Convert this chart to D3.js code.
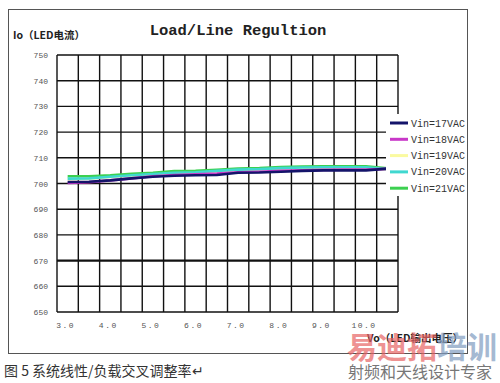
<!DOCTYPE html>
<html>
<head>
<meta charset="utf-8">
<script src="https://cdn.jsdelivr.net/npm/d3@7"></script>
<style>
  body { margin: 0; background: #fff; }
  svg { display: block; }
</style>
</head>
<body>
<svg id="chart" width="500" height="383"></svg>
<script>
// categories (Vo, volts) and tick labels
const vo = ["3.0","3.5","4.0","4.5","5.0","5.5","6.0","6.5","7.0","7.5","8.0","8.5","9.0","9.5","10.0","10.5"];
const xLabels = ["3.0","4.0","5.0","6.0","7.0","8.0","9.0","10.0"];
const yTicks = [650,660,670,680,690,700,710,720,730,740,750];

// Io (mA) per input voltage
const vin17 = [700.6,700.7,701.2,702.0,702.6,703.0,703.2,703.3,704.2,704.3,704.6,704.9,705.1,705.1,705.1,705.8];
const vin18 = [700.2,700.5,701.2,702.0,702.8,703.3,703.6,703.9,704.4,704.6,704.9,705.1,705.3,705.4,705.4,705.7];
const vin19 = [701.7,701.9,702.5,703.1,703.6,704.0,704.3,704.8,705.2,705.5,705.9,706.1,706.2,706.2,706.2,705.5];
const vin20 = [701.9,702.0,702.6,703.2,703.7,704.2,704.4,704.9,705.4,705.6,706.0,706.2,706.3,706.3,706.3,705.6];
const vin21 = [702.8,702.8,703.2,703.8,704.2,704.8,704.9,705.3,705.8,706.0,706.4,706.6,706.7,706.7,706.7,705.9];

const seriesNames = ["Vin=17VAC","Vin=18VAC","Vin=19VAC","Vin=20VAC","Vin=21VAC"];
const seriesColors = ["#14146a","#c838c8","#fafaa0","#40d8d0","#3cd050"];
const series = [vin17, vin18, vin19, vin20, vin21];

const svg = d3.select("#chart");
const mono = "'Liberation Mono', 'DejaVu Sans Mono', monospace";
const cjk = "'Noto Sans CJK SC', sans-serif";

// outer frame
svg.append("rect")
  .attr("x", 8.5).attr("y", 9.5).attr("width", 459).attr("height", 344)
  .attr("fill", "#fff").attr("stroke", "#555").attr("stroke-width", 1);

const x = d3.scaleBand().domain(vo).range([57, 398]);
const y = d3.scaleLinear().domain([650, 750]).range([312, 55]);

// grid
const grid = svg.append("g").attr("class", "grid");
grid.selectAll(".hline")
  .data(yTicks)
  .join("line")
  .attr("class", "hline")
  .attr("x1", 57).attr("x2", 398)
  .attr("y1", d => y(d)).attr("y2", d => y(d))
  .attr("stroke", "#111")
  .attr("stroke-width", d => d === 670 ? 2.2 : 1.4);

const xEdges = vo.map(d => x(d)).concat([x.range()[1]]);
grid.selectAll(".vline")
  .data(xEdges)
  .join("line")
  .attr("class", "vline")
  .attr("x1", d => d).attr("x2", d => d)
  .attr("y1", 55).attr("y2", 312)
  .attr("stroke", "#111").attr("stroke-width", 1.4);

// y axis labels
svg.append("g").selectAll("text")
  .data(yTicks)
  .join("text")
  .attr("x", 48).attr("y", d => y(d) + 3)
  .attr("text-anchor", "end")
  .attr("font-family", mono).attr("font-size", 8)
  .attr("fill", "#555")
  .text(d => d);

// x axis labels
svg.append("g").selectAll("text")
  .data(xLabels)
  .join("text")
  .attr("x", d => x(d) + x.bandwidth() / 2 - 2)
  .attr("y", 328)
  .attr("text-anchor", "middle")
  .attr("font-family", mono).attr("font-size", 8)
  .attr("letter-spacing", 1.5)
  .attr("fill", "#555")
  .text(d => d);

// lines
const line = d3.line()
  .x((d, i) => x(vo[i]) + x.bandwidth() / 2)
  .y(d => y(d));

svg.append("g").selectAll("path")
  .data([2, 4, 3, 1, 0])
  .join("path")
  .attr("d", i => line(series[i]))
  .attr("fill", "none")
  .attr("stroke", i => seriesColors[i])
  .attr("stroke-width", 2.6);

// title
svg.append("text")
  .attr("x", 238).attr("y", 35)
  .attr("text-anchor", "middle")
  .attr("font-family", mono).attr("font-size", 15.5).attr("font-weight", "bold")
  .attr("fill", "#222")
  .text("Load/Line Regultion");

// axis titles
svg.append("text")
  .attr("x", 13).attr("y", 39)
  .attr("font-family", cjk).attr("font-size", 10.5).attr("font-weight", "bold")
  .attr("fill", "#222")
  .text("Io（LED电流）");

svg.append("text")
  .attr("x", 367).attr("y", 342)
  .attr("font-family", cjk).attr("font-size", 10.5).attr("font-weight", "bold")
  .attr("fill", "#222")
  .text("Vo（LED输出电压）");

// legend
const legend = svg.append("g");
legend.append("rect")
  .attr("x", 386).attr("y", 114).attr("width", 81).attr("height", 82)
  .attr("fill", "#fff");

seriesNames.forEach((name, i) => {
  const ly = 123 + i * 16.3;
  legend.append("line")
    .attr("x1", 390).attr("x2", 408)
    .attr("y1", ly).attr("y2", ly)
    .attr("stroke", seriesColors[i]).attr("stroke-width", 3);
  legend.append("text")
    .attr("x", 411).attr("y", ly + 3.5)
    .attr("font-family", mono).attr("font-size", 10)
    .attr("fill", "#333")
    .text(name);
});
// redraw right frame edge over legend text overflow
svg.append("line")
  .attr("x1", 467.5).attr("x2", 467.5).attr("y1", 9.5).attr("y2", 353.5)
  .attr("stroke", "#555");
svg.append("rect")
  .attr("x", 468).attr("y", 110).attr("width", 32).attr("height", 90)
  .attr("fill", "#fff");

// caption
svg.append("text")
  .attr("x", 4).attr("y", 376)
  .attr("font-family", cjk).attr("font-size", 14)
  .attr("fill", "#333")
  .text("图 5 系统线性/负载交叉调整率↵");

// watermark
const wm = svg.append("text")
  .attr("x", 347).attr("y", 358)
  .attr("font-family", cjk).attr("font-size", 30).attr("font-weight", "bold")
  .attr("opacity", 0.7);
wm.append("tspan").attr("fill", "#e86464").text("易迪拓");
wm.append("tspan").attr("fill", "#7f9cc0").text("培训");

svg.append("text")
  .attr("x", 348).attr("y", 378)
  .attr("font-family", cjk).attr("font-size", 16)
  .attr("fill", "#777")
  .text("射频和天线设计专家");
</script>
</body>
</html>
